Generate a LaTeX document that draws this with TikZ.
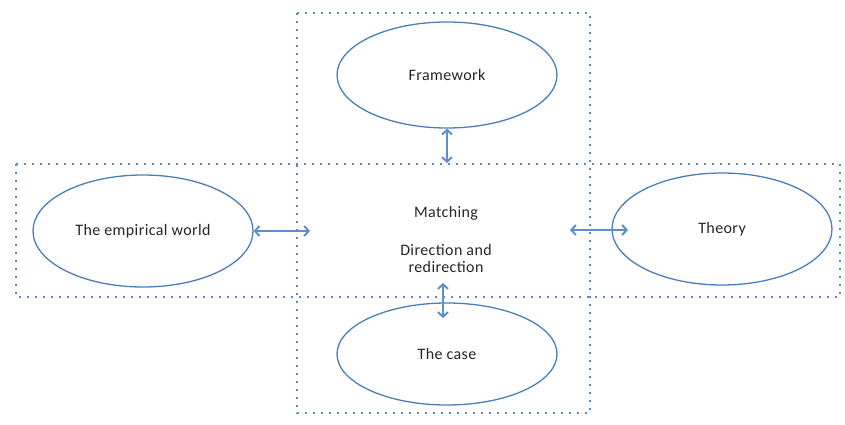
\documentclass[tikz,border=0pt]{standalone}
\usepackage{fontspec}
\setmainfont{Carlito}[LetterSpace=2.5]
\usetikzlibrary{arrows.meta,shapes.geometric}
\definecolor{edge}{HTML}{4A7EBB}
\definecolor{dots}{HTML}{5B8AC6}
\definecolor{link}{HTML}{5D8FC9}
\tikzset{
  bubble/.style={draw=edge, line width=1.3pt, ellipse, inner sep=0pt, minimum width=220pt, font=\fontsize{16}{18}\selectfont, text=black!85},
  dotframe/.style={draw=dots, line width=1.9pt, dash pattern=on 1.9pt off 6.1pt},
  twoway/.style={draw=link, line width=2pt, {Straight Barb[length=4.5pt,width=10pt]}-{Straight Barb[length=4.5pt,width=10pt]}},
}
\begin{document}
\begin{tikzpicture}[x=1pt,y=-1pt]
\useasboundingbox (0,0) rectangle (845,425);
% dotted frames: vertical band and horizontal band
\draw[dotframe] (297,13) rectangle (590,413);
\draw[dotframe] (16,164) rectangle (840,297);
% the four bubbles
\node[bubble, minimum height=106pt] (fw) at (447,75) {Framework};
\node[bubble, minimum height=112pt] (emp) at (143,231) {The empirical world};
\node[bubble, minimum height=112pt] (th) at (722,229) {Theory};
\node[bubble, minimum height=102pt] (case) at (447,354) {The case};
% central text
\node[font=\fontsize{16}{17}\selectfont, text=black!85, align=center] (mid) at (446,240)
  {Matching\\[21pt]Direction and\\redirection};
% arrow end points on the frame
\coordinate (topend) at (447,163);
\coordinate (leftend) at (310,231);
\coordinate (rightstart) at (570,230);
\coordinate (rightend) at (628,230);
\coordinate (botstart) at (443,283);
\coordinate (botend) at (443,318);
\draw[twoway] (fw.south) -- (topend);
\draw[twoway] (emp.east) -- (leftend);
\draw[twoway] (rightstart) -- (rightend);
\draw[twoway] (botstart) -- (botend);
\end{tikzpicture}
\end{document}
